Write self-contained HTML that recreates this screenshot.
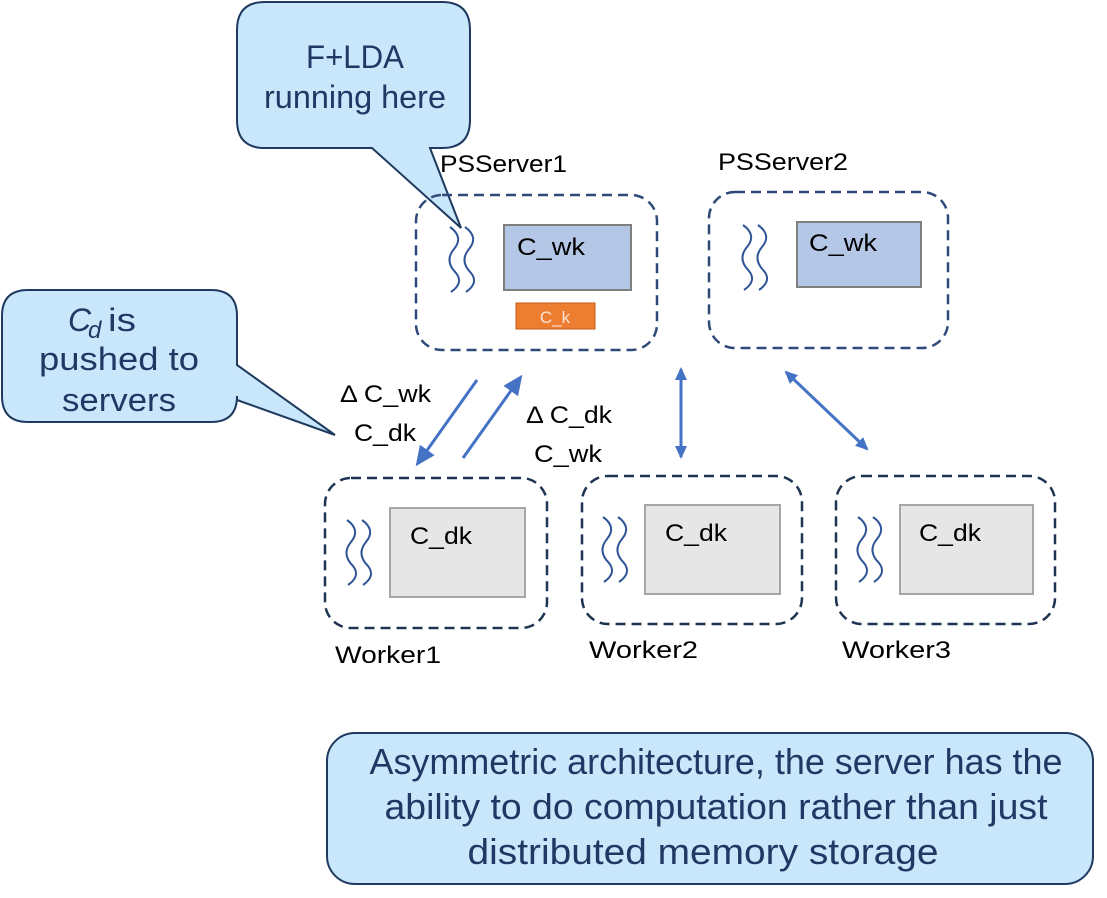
<!DOCTYPE html>
<html><head><meta charset="utf-8"><style>
html,body{margin:0;padding:0;background:#fff;}
svg{display:block;}
text{font-family:"Liberation Sans",sans-serif;}
</style></head><body>
<svg width="1107" height="898" viewBox="0 0 1107 898" xmlns="http://www.w3.org/2000/svg">
<defs>
<marker id="ah" markerWidth="14" markerHeight="14" refX="11" refY="6" orient="auto-start-reverse" markerUnits="userSpaceOnUse">
<path d="M0,0 L13,6 L0,12 z" fill="#4472c4"/>
</marker>
<marker id="ahb" markerWidth="20" markerHeight="18" refX="16" refY="9" orient="auto-start-reverse" markerUnits="userSpaceOnUse">
<path d="M0,0 L20,9 L0,18 z" fill="#4472c4"/>
</marker>
<g id="sq" fill="none" stroke="#2f5597" stroke-width="2">
<path d="M0,0 q14,10 4,22 q-10,12 2,24 q8,10 -5,19"/>
<path d="M15,0 q14,10 4,22 q-10,12 2,24 q8,10 -5,19"/>
</g>
</defs>

<!-- Callout 1 -->
<path d="M265,2 H442 Q470,2 470,30 V120 Q470,148 442,148 H430 L461,228 L372,148 H265 Q237,148 237,120 V30 Q237,2 265,2 Z" fill="#c9e7fb" stroke="#1f3a5f" stroke-width="2"/>
<text x="355" y="68" font-size="32" fill="#1f3864" text-anchor="middle" textLength="98" lengthAdjust="spacingAndGlyphs">F+LDA</text>
<text x="355" y="108" font-size="32" fill="#1f3864" text-anchor="middle" textLength="182" lengthAdjust="spacingAndGlyphs">running here</text>

<!-- Callout 2 -->
<path d="M28,290 H211 Q237,290 237,316 V365 L335,435 L237,400 V396 Q237,422 211,422 H28 Q2,422 2,396 V316 Q2,290 28,290 Z" fill="#c9e7fb" stroke="#1f3a5f" stroke-width="2"/>
<text x="68" y="331" font-size="32" font-family="Liberation Serif" font-style="italic" fill="#1f3864">C</text>
<text x="88" y="338" font-size="24" font-family="Liberation Serif" font-style="italic" fill="#1f3864">d</text>
<text x="108" y="331" font-size="32" fill="#1f3864" textLength="28" lengthAdjust="spacingAndGlyphs">is</text>
<text x="119" y="370" font-size="32" fill="#1f3864" text-anchor="middle" textLength="160" lengthAdjust="spacingAndGlyphs">pushed to</text>
<text x="119" y="411" font-size="32" fill="#1f3864" text-anchor="middle" textLength="114" lengthAdjust="spacingAndGlyphs">servers</text>

<!-- PSServer1 -->
<text x="440" y="172" font-size="24" fill="#000" textLength="127" lengthAdjust="spacingAndGlyphs">PSServer1</text>
<rect x="416" y="195" width="241" height="155" rx="26" fill="none" stroke="#2f4a78" stroke-width="2.5" stroke-dasharray="10,6"/>
<rect x="504" y="225" width="127" height="65" fill="#b4c7e7" stroke="#7f7f7f" stroke-width="2"/>
<text x="517" y="255" font-size="24" fill="#000" textLength="68" lengthAdjust="spacingAndGlyphs">C_wk</text>
<rect x="516" y="303" width="79" height="26" fill="#ed7d31" stroke="#c55a11" stroke-width="1"/>
<text x="555" y="323" font-size="17" fill="#fbe5d6" text-anchor="middle">C_k</text>
<use href="#sq" x="450" y="227"/>

<!-- PSServer2 -->
<text x="718" y="170" font-size="24" fill="#000" textLength="130" lengthAdjust="spacingAndGlyphs">PSServer2</text>
<rect x="709" y="192" width="239" height="156" rx="26" fill="none" stroke="#2f4a78" stroke-width="2.5" stroke-dasharray="10,6"/>
<rect x="797" y="222" width="124" height="65" fill="#b4c7e7" stroke="#7f7f7f" stroke-width="2"/>
<text x="809" y="251" font-size="24" fill="#000" textLength="68" lengthAdjust="spacingAndGlyphs">C_wk</text>
<use href="#sq" x="743" y="225"/>

<!-- Workers -->
<rect x="325" y="478" width="222" height="150" rx="26" fill="none" stroke="#1f3352" stroke-width="2.5" stroke-dasharray="10,6"/>
<rect x="390" y="508" width="135" height="89" fill="#e7e6e6" stroke="#a6a6a6" stroke-width="2"/>
<text x="410" y="544" font-size="24" fill="#000" textLength="62" lengthAdjust="spacingAndGlyphs">C_dk</text>
<use href="#sq" x="347" y="520"/>
<text x="335" y="663" font-size="24" fill="#000" textLength="106" lengthAdjust="spacingAndGlyphs">Worker1</text>

<rect x="582" y="476" width="220" height="148" rx="26" fill="none" stroke="#1f3352" stroke-width="2.5" stroke-dasharray="10,6"/>
<rect x="645" y="505" width="135" height="89" fill="#e7e6e6" stroke="#a6a6a6" stroke-width="2"/>
<text x="665" y="541" font-size="24" fill="#000" textLength="62" lengthAdjust="spacingAndGlyphs">C_dk</text>
<use href="#sq" x="603" y="517"/>
<text x="589" y="658" font-size="24" fill="#000" textLength="109" lengthAdjust="spacingAndGlyphs">Worker2</text>

<rect x="836" y="476" width="219" height="148" rx="26" fill="none" stroke="#1f3352" stroke-width="2.5" stroke-dasharray="10,6"/>
<rect x="900" y="505" width="133" height="89" fill="#e7e6e6" stroke="#a6a6a6" stroke-width="2"/>
<text x="919" y="541" font-size="24" fill="#000" textLength="62" lengthAdjust="spacingAndGlyphs">C_dk</text>
<use href="#sq" x="858" y="517"/>
<text x="842" y="658" font-size="24" fill="#000" textLength="109" lengthAdjust="spacingAndGlyphs">Worker3</text>

<!-- Arrows -->
<line x1="477" y1="380" x2="418" y2="463" stroke="#4472c4" stroke-width="3" marker-end="url(#ahb)"/>
<line x1="463" y1="458" x2="520" y2="378" stroke="#4472c4" stroke-width="3" marker-end="url(#ahb)"/>
<line x1="681" y1="369" x2="681" y2="457" stroke="#4472c4" stroke-width="3" marker-start="url(#ah)" marker-end="url(#ah)"/>
<line x1="786" y1="372" x2="867" y2="449" stroke="#4472c4" stroke-width="3" marker-start="url(#ah)" marker-end="url(#ah)"/>

<text x="340" y="402" font-size="24" fill="#000" textLength="91" lengthAdjust="spacingAndGlyphs">Δ C_wk</text>
<text x="354" y="441" font-size="24" fill="#000" textLength="62" lengthAdjust="spacingAndGlyphs">C_dk</text>
<text x="526" y="423" font-size="24" fill="#000" textLength="86" lengthAdjust="spacingAndGlyphs">Δ C_dk</text>
<text x="534" y="462" font-size="24" fill="#000" textLength="68" lengthAdjust="spacingAndGlyphs">C_wk</text>

<!-- Bottom box -->
<rect x="327" y="733" width="766" height="151" rx="28" fill="#c9e7fb" stroke="#1f3a5f" stroke-width="2"/>
<text x="716" y="774" font-size="36" fill="#1f3864" text-anchor="middle" textLength="693" lengthAdjust="spacingAndGlyphs">Asymmetric architecture, the server has the</text>
<text x="716" y="819" font-size="36" fill="#1f3864" text-anchor="middle" textLength="663" lengthAdjust="spacingAndGlyphs">ability to do computation rather than just</text>
<text x="703" y="864" font-size="36" fill="#1f3864" text-anchor="middle" textLength="471" lengthAdjust="spacingAndGlyphs">distributed memory storage</text>
</svg>
</body></html>
